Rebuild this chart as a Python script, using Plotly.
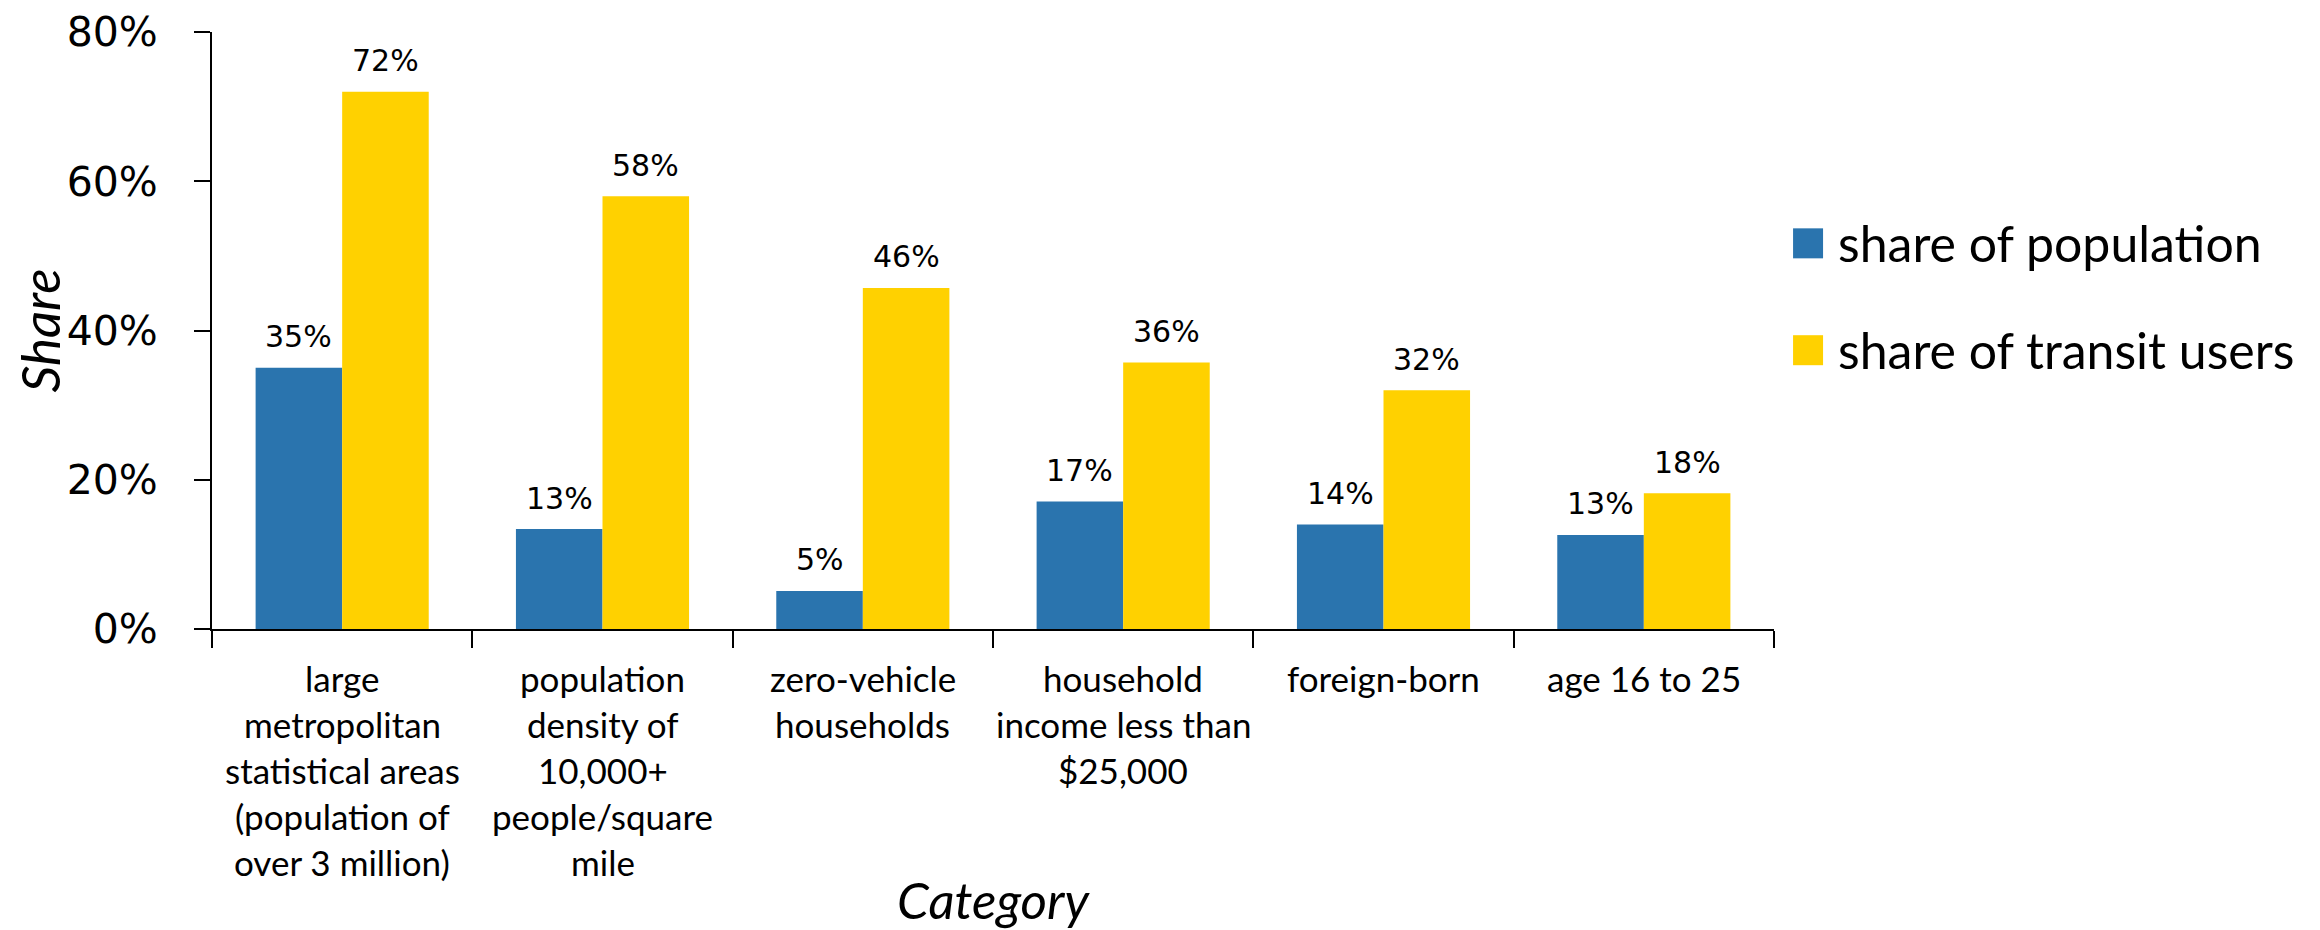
import plotly.graph_objects as go

categories = [
    "large<br>metropolitan<br>statistical areas<br>(population of<br>over 3 million)",
    "population<br>density of<br>10,000+<br>people/square<br>mile",
    "zero-vehicle<br>households",
    "household<br>income less than<br>$25,000",
    "foreign-born",
    "age 16 to 25",
]
share_population = [0.350, 0.134, 0.051, 0.171, 0.140, 0.126]
share_transit = [0.720, 0.580, 0.457, 0.357, 0.320, 0.182]
series_names = ["share of population", "share of transit users"]
y_ticks = [0, 0.2, 0.4, 0.6, 0.8]
y_tick_labels = ["0%", "20%", "40%", "60%", "80%"]

BLUE = "#2A74AE"
YELLOW = "#FFD100"
BARGAP = 0.335
LABEL_FONT = "Lato, 'Open Sans', sans-serif"
NUM_FONT = "'DejaVu Sans', Verdana, sans-serif"

fig = go.Figure()
fig.add_trace(go.Bar(x=categories, y=share_population, name=series_names[0],
                     marker=dict(color=BLUE, line=dict(width=0)), showlegend=False))
fig.add_trace(go.Bar(x=categories, y=share_transit, name=series_names[1],
                     marker=dict(color=YELLOW, line=dict(width=0)), showlegend=False))

annotations = []
half = (1 - BARGAP) / 4
for i, (p, t) in enumerate(zip(share_population, share_transit)):
    for off, v in ((-half, p), (half, t)):
        annotations.append(dict(x=i + off, y=v, xref="x", yref="y", text=f"{round(v*100)}%",
                                showarrow=False, yanchor="middle", yshift=31,
                                font=dict(family=NUM_FONT, size=30, color="#000")))
# category labels, one annotation per line for Excel-like line spacing
for i, cat in enumerate(categories):
    for j, line in enumerate(cat.split("<br>")):
        annotations.append(dict(x=i, y=0, xref="x", yref="paper", text=line, showarrow=False,
                                yanchor="middle", yshift=-(49 + 46 * j),
                                font=dict(family=LABEL_FONT, size=35, color="#000")))

# legend (drawn manually for Excel-sized swatches)
shapes = []
for k, (name, col, yc) in enumerate(zip(series_names, [BLUE, YELLOW], [0.646, 0.467])):
    shapes.append(dict(type="rect", xref="paper", yref="paper", xsizemode="pixel", ysizemode="pixel",
                       xanchor=1.0122, x0=0, x1=30, yanchor=yc, y0=-15, y1=15,
                       fillcolor=col, line=dict(width=0)))
    annotations.append(dict(x=1.0397, y=yc, xref="paper", yref="paper", text=name, showarrow=False,
                            xanchor="left", yanchor="middle",
                            font=dict(family=LABEL_FONT, size=50, color="#000")))

fig.update_layout(
    width=2320, height=930,
    margin=dict(l=204, r=554, t=24, b=309, autoexpand=False),
    paper_bgcolor="white", plot_bgcolor="white",
    barmode="group", bargap=BARGAP, bargroupgap=0,
    showlegend=False,
    annotations=annotations, shapes=shapes,
)
fig.update_xaxes(
    showline=True, linecolor="#000", linewidth=2,
    ticks="outside", ticklen=17, tickwidth=2, tickcolor="#000", tickson="boundaries",
    showticklabels=False, showgrid=False, zeroline=False,
    title=dict(text="Category", standoff=253,
               font=dict(family=LABEL_FONT, size=51, color="#000", style="italic")),
    automargin=False,
)
fig.update_yaxes(
    range=[0, 0.8], tickvals=y_ticks, ticktext=y_tick_labels,
    showline=True, linecolor="#000", linewidth=2,
    ticks="outside", ticklen=16, tickwidth=2, tickcolor="#000",
    tickfont=dict(family=NUM_FONT, size=41, color="#000"),
    ticklabelstandoff=28, ticklabeloverflow="allow",
    showgrid=False, zeroline=False,
    title=dict(text="Share", standoff=3,
               font=dict(family=LABEL_FONT, size=53, color="#000", style="italic")),
    automargin=False,
)

fig.write_html("out.html")
